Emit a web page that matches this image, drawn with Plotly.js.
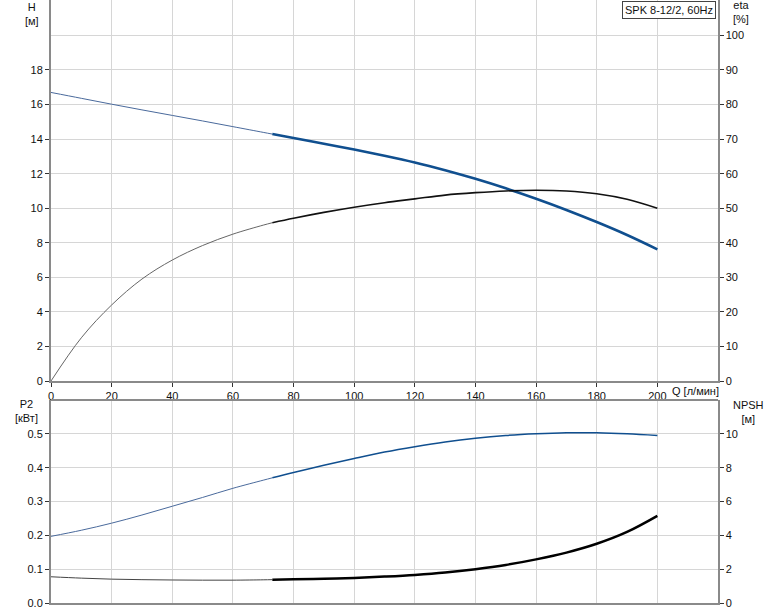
<!DOCTYPE html>
<html>
<head>
<meta charset="utf-8">
<script src="https://cdn.plot.ly/plotly-3.0.1.min.js"></script>
<style>html,body{margin:0;padding:0;background:#fff;}#chart{width:774px;height:611px;}</style>
</head>
<body>
<div id="chart"></div>
<script>
// ---- data ----
const Q      = [0, 10, 20, 30, 40, 50, 60, 70, 73, 80, 90, 100, 110, 120, 130, 140, 150, 160, 170, 180, 190, 200];
const H      = [16.7, 16.36, 16.02, 15.69, 15.37, 15.05, 14.72, 14.39, 14.29, 14.06, 13.73, 13.40, 13.04, 12.65, 12.2, 11.7, 11.15, 10.55, 9.9, 9.2, 8.45, 7.62];
const ETA    = [0, 12.5, 22.0, 29.5, 35.0, 39.2, 42.5, 45.1, 45.8, 47.1, 48.8, 50.3, 51.6, 52.7, 53.8, 54.5, 55.0, 55.2, 55.0, 54.2, 52.6, 50.0];
const P2     = [0.197, 0.215, 0.236, 0.26, 0.286, 0.312, 0.339, 0.363, 0.37, 0.386, 0.407, 0.427, 0.446, 0.462, 0.476, 0.487, 0.495, 0.500, 0.503, 0.503, 0.500, 0.495];
const NPSH   = [1.55, 1.47, 1.41, 1.38, 1.36, 1.35, 1.35, 1.37, 1.38, 1.40, 1.43, 1.48, 1.56, 1.66, 1.8, 2.0, 2.25, 2.58, 2.98, 3.5, 4.2, 5.15];
const DUTY_START = 73;   // Q where the curves become bold
const qTicks    = [0, 20, 40, 60, 80, 100, 120, 140, 160, 180, 200];
const hTicks    = [0, 2, 4, 6, 8, 10, 12, 14, 16, 18];
const etaTicks  = [0, 10, 20, 30, 40, 50, 60, 70, 80, 90, 100];
const p2Ticks   = [0, 0.1, 0.2, 0.3, 0.4, 0.5];
const npshTicks = [0, 2, 4, 6, 8, 10];
const modelLabel = 'SPK 8-12/2, 60Hz';

// ---- helpers ----
function seg(ys, part) {
  const xs = [], out = [];
  for (let i = 0; i < Q.length; i++) {
    if ((part === 'thin' && Q[i] <= DUTY_START) || (part === 'thick' && Q[i] >= DUTY_START)) {
      xs.push(Q[i]); out.push(ys[i]);
    }
  }
  return {x: xs, y: out};
}
const BLUE = '#104f8f', BLUE_THIN = '#4a6a9c';
function tr(ys, part, xa, ya, color, width) {
  const s = seg(ys, part);
  return {x: s.x, y: s.y, xaxis: xa, yaxis: ya, mode: 'lines', type: 'scatter',
          line: {color: color, width: width, shape: 'spline', smoothing: 1},
          hoverinfo: 'skip', showlegend: false};
}
const traces = [
  tr(H, 'thin', 'x', 'y', BLUE_THIN, 1),
  tr(H, 'thick', 'x', 'y', BLUE, 2.6),
  tr(ETA, 'thin', 'x', 'y2', '#666', 1),
  tr(ETA, 'thick', 'x', 'y2', '#111', 1.6),
  tr(P2, 'thin', 'x2', 'y3', BLUE_THIN, 1),
  tr(P2, 'thick', 'x2', 'y3', BLUE, 1.5),
  tr(NPSH, 'thin', 'x2', 'y4', '#444', 1),
  tr(NPSH, 'thick', 'x2', 'y4', '#000', 2.5)
];

const GRID = '#d6d6d6', AXL = '#8a8a8a';
const tickFont = {family: 'Liberation Sans, Arial, sans-serif', size: 11, color: '#111'};
const common = {showline: true, linecolor: AXL, linewidth: 2, ticks: 'outside', ticklen: 4,
                tickcolor: '#333', tickfont: tickFont, zeroline: false, fixedrange: true};

const L = 51, R = 718, TOP = 0, BOT = 603;
const px = v => (v - L) / (R - L);
const py = v => (BOT - v) / (BOT - TOP);

const layout = {
  width: 774, height: 611,
  margin: {l: L, r: 774 - R, t: TOP, b: 611 - BOT, pad: 0},
  paper_bgcolor: '#fff', plot_bgcolor: '#fff',
  font: tickFont,
  xaxis: Object.assign({}, common, {domain: [0, 1], range: [0, 220], anchor: 'y',
         tickmode: 'array', tickvals: qTicks, showgrid: true, gridcolor: GRID, gridwidth: 1}),
  xaxis2: Object.assign({}, common, {domain: [0, 1], range: [0, 220], anchor: 'y3',
         tickmode: 'array', tickvals: qTicks, showticklabels: false, ticks: '',
         showgrid: true, gridcolor: GRID, gridwidth: 1}),
  yaxis: Object.assign({}, common, {domain: [py(381), 1], range: [0, 22.05], anchor: 'x',
         tickmode: 'array', tickvals: hTicks, showgrid: false}),
  yaxis2: Object.assign({}, common, {overlaying: 'y', side: 'right', range: [0, 110.25], anchor: 'x',
         tickmode: 'array', tickvals: etaTicks, showgrid: true, gridcolor: GRID, gridwidth: 1, linewidth: 1.5}),
  yaxis3: Object.assign({}, common, {domain: [0, py(400)], range: [0, 0.6], anchor: 'x2',
         tickmode: 'array', tickvals: p2Ticks, tickformat: '.1f', showgrid: true, gridcolor: GRID, gridwidth: 1}),
  yaxis4: Object.assign({}, common, {overlaying: 'y3', side: 'right', range: [0, 12], anchor: 'x2',
         tickmode: 'array', tickvals: npshTicks, showgrid: false, linewidth: 1.5}),
  shapes: [
    {type: 'line', xref: 'paper', yref: 'paper', x0: 0, x1: 1, y0: py(400), y1: py(400),
     line: {color: AXL, width: 2}}
  ],
  annotations: [
    {text: modelLabel, xref: 'paper', yref: 'paper', x: px(716), y: py(1), xanchor: 'right', yanchor: 'top',
     showarrow: false, bgcolor: '#fff', bordercolor: '#444', borderwidth: 1, borderpad: 2,
     font: {family: 'Liberation Sans, Arial, sans-serif', size: 11, color: '#111'}},
    {text: 'H<br>[м]', xref: 'paper', yref: 'paper', x: px(32), y: py(14), xanchor: 'center', yanchor: 'middle',
     showarrow: false, font: tickFont},
    {text: 'eta<br>[%]', xref: 'paper', yref: 'paper', x: px(741), y: py(12), xanchor: 'center', yanchor: 'middle',
     showarrow: false, font: tickFont},
    {text: 'P2<br>[кВт]', xref: 'paper', yref: 'paper', x: px(26), y: py(411), xanchor: 'center', yanchor: 'middle',
     showarrow: false, font: tickFont},
    {text: 'NPSH<br>[м]', xref: 'paper', yref: 'paper', x: px(748), y: py(412), xanchor: 'center', yanchor: 'middle',
     showarrow: false, font: tickFont},
    {text: 'Q [л/мин]', xref: 'paper', yref: 'paper', x: px(670), y: py(391), xanchor: 'left', yanchor: 'middle',
     showarrow: false, font: tickFont}
  ]
};

Plotly.newPlot('chart', traces, layout, {displayModeBar: false, staticPlot: true});
</script>
</body>
</html>
